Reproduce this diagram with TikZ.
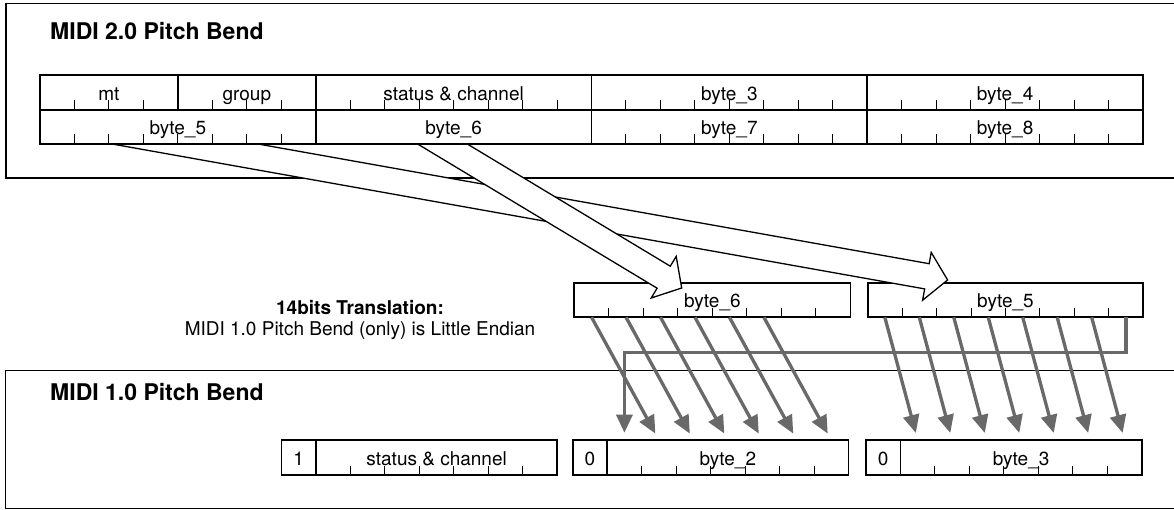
\documentclass[tikz,border=0pt]{standalone}
\usepackage{fontspec}
\setmainfont{TeX Gyre Heros}
\usetikzlibrary{arrows.meta,calc}
\definecolor{garr}{RGB}{105,105,105}
% #1 name, #2 x1, #3 y1, #4 x2, #5 y2, #6 label, #7 bit width, #8 number of ticks
\newcommand\regcell[8]{%
  \node[cellbox, minimum width={(#4)-(#2)}, minimum height={(#5)-(#3)}] (#1) at ({((#2)+(#4))/2},{((#3)+(#5))/2}) {};%
  \node[lbl] (#1-t) at ({((#2)+(#4))/2},{(#5)-9.5}) {#6};%
  \ifnum#8>0 \foreach \k in {1,...,#8} {\draw[tickln] ({(#2)+\k*#7},#5) -- ++(0,-9.5);}\fi
}
\begin{document}
\begin{tikzpicture}[x=1pt,y=-1pt,
  cellbox/.style={draw=black, line width=1.8pt, inner sep=0pt, outer sep=0pt},
  lbl/.style={anchor=base, inner sep=0pt, font=\fontsize{19}{22}\selectfont},
  txt/.style={anchor=base, inner sep=0pt, font=\fontsize{19}{22}\selectfont},
  bld/.style={anchor=base, inner sep=0pt, font=\fontsize{19}{22}\selectfont\bfseries},
  tickln/.style={line width=1pt},
  ttl/.style={anchor=base west, inner sep=0pt, font=\fontsize{23}{27}\selectfont\bfseries},
  hollow/.style={draw=black, fill=white, line width=1.3pt, line join=miter},
  garrow/.style={draw=garr, line width=3.3pt, -{Triangle[length=18pt,width=16pt]}, shorten >=7.3pt},
  outerln/.style={line width=1.8pt},
  outerthin/.style={line width=1.1pt}]
\useasboundingbox (0,0) rectangle (1174,510);
% outer boxes
\draw[outerln] (1174,3.5) -- (5.7,3.5) -- (5.7,178) -- (1174,178);
\draw[outerthin] (1174,370.7) -- (5.7,370.7) -- (5.7,508.3) -- (1174,508.3);
% middle boxes
\regcell{m6}{574.3}{282.7}{850.5}{317.3}{byte\_6}{34.47}{7}
\regcell{m5}{867.6}{282.7}{1143.3}{317.3}{byte\_5}{34.47}{7}
% hollow arrows
\draw[hollow] (112.1,144) -- (924.65,288.9) -- (922.6,300.2) -- (947.6,280) -- (931.2,252.4) -- (929.2,263.7) -- (258,144) -- cycle;
\draw[hollow] (417.6,144) -- (657.1,288.2) -- (651.2,298.0) -- (681.7,288) -- (676.2,256.4) -- (670.3,266.2) -- (467.3,144) -- cycle;
% top register
\regcell{mt}{40}{75}{177.9}{110}{mt}{34.47}{3}
\regcell{grp}{177.9}{75}{315.75}{110}{group}{34.47}{3}
\regcell{stc}{315.75}{75}{591.5}{110}{status \& channel}{34.47}{7}
\regcell{b3}{591.5}{75}{867.25}{110}{byte\_3}{34.47}{7}
\regcell{b4}{867.25}{75}{1143}{110}{byte\_4}{34.47}{7}
\regcell{b5}{40}{110}{315.75}{144}{byte\_5}{34.47}{7}
\regcell{b6}{315.75}{110}{591.5}{144}{byte\_6}{34.47}{0}
\regcell{b7}{591.5}{110}{867.25}{144}{byte\_7}{34.47}{7}
\regcell{b8}{867.25}{110}{1143}{144}{byte\_8}{34.47}{7}
% bottom register
\regcell{one}{281.5}{440}{316}{475}{1}{34.47}{0}
\regcell{sc1}{316}{440}{557.3}{475}{status \& channel}{34.47}{6}
\regcell{z2}{572.7}{440}{607.2}{475}{0}{34.47}{0}
\regcell{by2}{607.2}{440}{848.5}{475}{byte\_2}{34.47}{6}
\regcell{z3}{866}{440}{900.5}{475}{0}{34.47}{0}
\regcell{by3}{900.5}{440}{1141.8}{475}{byte\_3}{34.47}{6}
% texts
\node[ttl] (t2) at (50,39.3) {MIDI 2.0 Pitch Bend};
\node[ttl] (t1) at (50,400.5) {MIDI 1.0 Pitch Bend};
\node[bld] (n1) at (360,315) {14bits Translation:};
\node[txt] (n2) at (360,335) {MIDI 1.0 Pitch Bend (only) is Little Endian};
% bit coordinates
\foreach \k in {0,...,7} {
  \coordinate (s6-\k) at ({591.54+34.47*\k},317.3);
  \coordinate (s5-\k) at ({884.84+34.47*\k},317.3);
  \coordinate (d2-\k) at ({589.94+34.47*\k},440);
  \coordinate (d3-\k) at ({883.24+34.47*\k},440);
}
\coordinate (bend) at ($(d2-1)+(0,-87.3)$);
% gray bit arrows
\foreach \k/\j in {0/2,1/3,2/4,3/5,4/6,5/7} {\draw[garrow] (s6-\k) -- (d2-\j);}
\foreach \k/\j in {0/1,1/2,2/3,3/4,4/5,5/6,6/7} {\draw[garrow] (s5-\k) -- (d3-\j);}
\draw[garrow] (s5-7) |- (bend) -- (d2-1);
\end{tikzpicture}
\end{document}
